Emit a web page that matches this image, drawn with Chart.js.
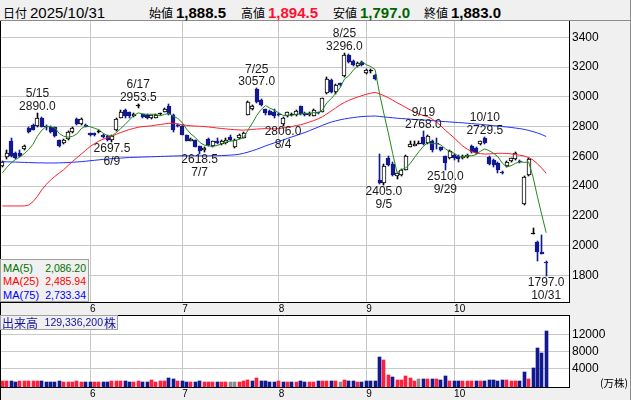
<!DOCTYPE html>
<html><head><meta charset="utf-8">
<script src="https://cdn.jsdelivr.net/npm/chart.js@4.4.0/dist/chart.umd.min.js"></script>
<style>
html,body{margin:0;padding:0;width:631px;height:400px;overflow:hidden;background:#f0f0f0;font-family:"Liberation Sans",Arial,sans-serif;}
#hdr{position:absolute;left:0;top:0;width:630px;height:20px;background:#f0f0f0;border-bottom:1px solid #8c8c8c;border-right:1px solid #8c8c8c;}
.t{position:absolute;top:0;line-height:26px;white-space:nowrap;color:#000;}
.j{font-family:"Noto Sans CJK JP";font-size:12px;}
.n{font-size:15px;}
.b{font-weight:bold;}
canvas{position:absolute;left:0;}
#pc{top:21px;}
#vc{top:315px;}
.box{position:absolute;background:#f0f0f0;border:1px solid #a0a0a0;box-sizing:border-box;}
.row{position:absolute;left:2px;right:2px;height:14px;line-height:14px;white-space:nowrap;}
.row .l{position:absolute;left:0;font-size:11px;}
.row .v{position:absolute;right:0;font-size:10.5px;}
</style>
</head><body>
<div id="hdr">
  <span class="t j" style="left:3px">日付</span>
  <span class="t n" style="left:30px">2025/10/31</span>
  <span class="t j" style="left:149px">始値</span>
  <span class="t n b" style="left:176px">1,888.5</span>
  <span class="t j" style="left:241px">高値</span>
  <span class="t n b" style="left:268px;color:#ff1030">1,894.5</span>
  <span class="t j" style="left:333px">安値</span>
  <span class="t n b" style="left:360px;color:#006400">1,797.0</span>
  <span class="t j" style="left:424px">終値</span>
  <span class="t n b" style="left:451px">1,883.0</span>
</div>
<canvas id="pc" width="631" height="294"></canvas>
<canvas id="vc" width="631" height="85"></canvas>
<div class="box" style="left:0;top:259px;width:89px;height:43px;">
  <div class="row" style="top:1px;color:#007000"><span class="l">MA(5)</span><span class="v">2,086.20</span></div>
  <div class="row" style="top:14px;color:#ff0000"><span class="l">MA(25)</span><span class="v">2,485.94</span></div>
  <div class="row" style="top:28px;color:#0000ff"><span class="l">MA(75)</span><span class="v">2,733.34</span></div>
</div>
<div class="box" style="left:0;top:315px;width:118px;height:15px;color:#1414a0;">
  <span style="position:absolute;left:1px;top:0;line-height:13px;font-family:'Noto Sans CJK JP';font-size:12px;">出来高</span>
  <span style="position:absolute;right:14px;top:0;line-height:13px;font-size:10.5px;">129,336,200</span>
  <span style="position:absolute;right:1px;top:0;line-height:13px;font-family:'Noto Sans CJK JP';font-size:12px;">株</span>
</div>
<div style="position:absolute;left:600px;top:376px;font-family:'Noto Sans CJK JP';font-size:10.5px;line-height:14px;color:#000;white-space:nowrap;">(万株)</div>
<script>
// ---------------- data ----------------
const dates = ['5/1','5/2','5/7','5/8','5/9','5/12','5/13','5/14','5/15','5/16','5/19','5/20','5/21','5/22','5/23','5/26','5/27','5/28','5/29','5/30',
'6/2','6/3','6/4','6/5','6/6','6/9','6/10','6/11','6/12','6/13','6/16','6/17','6/18','6/19','6/20','6/23','6/24','6/25','6/26','6/27','6/30',
'7/1','7/2','7/3','7/4','7/7','7/8','7/9','7/10','7/11','7/14','7/15','7/16','7/17','7/18','7/22','7/23','7/24','7/25','7/28','7/29','7/30','7/31',
'8/1','8/4','8/5','8/6','8/7','8/8','8/12','8/13','8/14','8/15','8/18','8/19','8/20','8/21','8/22','8/25','8/26','8/27','8/28','8/29',
'9/1','9/2','9/3','9/4','9/5','9/8','9/9','9/10','9/11','9/12','9/16','9/17','9/18','9/19','9/22','9/24','9/25','9/26','9/29','9/30',
'10/1','10/2','10/3','10/6','10/7','10/8','10/9','10/10','10/14','10/15','10/16','10/17','10/20','10/21','10/22','10/23','10/24','10/27','10/28','10/29','10/30','10/31'];
const opens = [2535,2592,2700,2620,2625,2648,2792,2812,2805,2855,2800,2800,2795,2710,2690,2716,2762,2850,2815,2810,
2755,2755,2765,2745,2735,2712,2775,2860,2912,2895,2870,2935,2882,2880,2858,2860,2884,2900,2940,2880,2810,
2805,2742,2705,2708,2668,2640,2715,2672,2705,2680,2690,2730,2665,2720,2725,2880,2918,3050,2978,2915,2905,2900,
2880,2818,2870,2880,2875,2935,2890,2875,2872,2895,2900,3025,3110,3030,3090,3140,3280,3240,3207,3235,
3158,3172,3145,2440,2420,2587,2550,2465,2475,2508,2665,2672,2685,2730,2692,2700,2690,2660,2600,2587,
2609,2605,2590,2595,2669,2655,2680,2722,2597,2575,2557,2495,2535,2570,2580,2570,2277,2474,2080,2027,1960,1888.5];
const highs = [2570,2645,2725,2630,2640,2675,2800,2820,2890,2865,2810,2805,2800,2712,2715,2770,2795,2860,2855,2815,
2760,2760,2775,2750,2740,2742,2855,2910,2920,2900,2890,2953.5,2885,2885,2880,2882,2892,2925,2950,2885,2820,
2808,2745,2720,2712,2672,2660,2720,2705,2720,2712,2720,2740,2715,2748,2765,2970,2942,3057,2985,2920,2910,2915,
2890,2862,2900,2890,2910,2940,2895,2895,2915,2900,2995,3130,3120,3085,3095,3296,3290,3245,3235,3240,
3185,3185,3150,2615,2548,2600,2560,2490,2515,2612,2705,2700,2705,2768,2745,2710,2720,2665,2605,2640,
2615,2612,2610,2615,2675,2660,2705,2729.5,2600,2580,2565,2500,2570,2590,2632,2575,2470,2590,2115,2030,2070,1894.5];
const lows = [2530,2585,2595,2580,2595,2640,2760,2775,2800,2795,2780,2755,2730,2665,2680,2710,2755,2810,2810,2795,
2735,2738,2755,2725,2705,2697.5,2770,2855,2860,2860,2865,2925,2860,2850,2852,2855,2878,2895,2880,2765,2800,
2740,2700,2700,2660,2618.5,2632,2670,2665,2680,2675,2685,2705,2658,2715,2720,2875,2912,2960,2940,2880,2875,2860,
2870,2806,2865,2872,2870,2880,2870,2870,2868,2882,2898,3020,3025,3020,3070,3135,3230,3205,3200,3210,
3150,3160,3115,2415,2405,2535,2468,2450,2470,2505,2660,2668,2680,2678,2685,2630,2650,2635,2510,2580,
2575,2560,2585,2590,2625,2615,2675,2685,2540,2530,2490,2478,2530,2565,2575,2555,2275,2470,2080,1898,1940,1797];
const closes = [2565,2625,2600,2590,2600,2670,2766,2780,2860,2800,2795,2762,2735,2672,2710,2765,2788,2815,2850,2800,
2740,2742,2765,2730,2712,2738,2850,2900,2870,2868,2885,2935,2865,2855,2876,2878,2884,2918,2885,2780,2806,
2745,2706,2715,2665,2638,2655,2675,2700,2690,2705,2710,2710,2710,2742,2755,2965,2938,2968,2945,2890,2880,2870,
2878,2855,2895,2880,2905,2885,2878,2890,2912,2888,2990,3122,3030,3080,3080,3281,3236,3214,3228,3215,
3180,3172,3122,2420,2535,2542,2475,2485,2508,2605,2680,2685,2685,2683,2735,2640,2685,2642,2557,2633,
2587,2585,2605,2610,2631,2622,2700,2688,2548,2540,2508,2485,2564,2587,2620,2560,2463,2580,2080,1960,1945,1883];
// volume (万株)
const volumes = [1000,1100,1000,850,900,950,1050,1000,1000,900,850,850,850,900,850,850,850,900,850,850,
850,850,850,850,850,900,950,950,900,850,850,950,850,850,1300,850,900,1000,1600,1500,1000,
900,850,850,850,900,850,850,850,850,850,850,850,850,850,900,1250,1000,1700,1000,900,850,850,
900,850,850,850,850,900,850,850,850,900,900,1100,1000,900,850,1250,1000,900,850,850,
950,900,1000,6800,6000,2400,2000,1250,1250,2250,1800,1000,1450,1450,1450,1450,1450,1250,2250,1000,
1000,1000,1000,1000,1000,900,1000,1000,1150,1300,1000,1350,1250,1000,1100,1000,3200,1500,4200,8900,7750,12934];
const ma5 = [2488,2525,2555,2578,2596,2617,2645,2681,2735,2775,2800,2799,2790,2753,2735,2729,2734,2750,2786,2804,
2799,2789,2779,2755,2738,2737,2759,2786,2814,2845,2875,2892,2885,2882,2883,2882,2872,2882,2888,2869,2855,
2827,2784,2750,2727,2694,2676,2670,2667,2672,2685,2696,2703,2705,2715,2725,2776,2822,2874,2914,2941,2924,2911,
2893,2875,2876,2876,2883,2884,2889,2888,2894,2891,2912,2960,2988,3022,3060,3119,3141,3178,3208,3236,
3216,3203,3183,3022,2886,2758,2619,2491,2509,2523,2551,2593,2632,2667,2693,2685,2686,2676,2651,2631,
2621,2601,2593,2604,2604,2611,2634,2650,2638,2620,2597,2554,2529,2537,2553,2563,2559,2562,2461,2329,2206,2086];
const ma25 = [2266,2266,2266,2266,2266,2266,2272,2295,2330,2375,2410,2440,2465,2488,2510,2538,2565,2590,2615,2640,
2665,2685,2702,2715,2725,2735,2748,2760,2770,2780,2788,2795,2800,2802,2805,2810,2814,2818,2822,2822,2818,
2812,2808,2805,2803,2802,2800,2797,2794,2790,2787,2784,2781,2779,2777,2776,2778,2780,2783,2785,2786,2785,2784,
2786,2790,2795,2800,2806,2812,2820,2830,2840,2852,2866,2885,2905,2925,2945,2962,2976,2988,2998,3008,
3017,3024,3030,3020,3008,2994,2978,2960,2945,2928,2912,2898,2885,2875,2866,2850,2830,2805,2775,2750,
2725,2695,2668,2648,2632,2622,2618,2615,2616,2618,2620,2620,2619,2616,2612,2607,2602,2592,2575,2550,2520,2486];
const ma75 = [2564,2563,2562,2561,2560,2559,2558,2557,2556,2556,2555,2555,2555,2556,2557,2558,2560,2562,2564,2567,
2570,2573,2576,2579,2582,2584,2586,2588,2590,2592,2593,2594,2595,2596,2597,2598,2599,2600,2601,2602,2603,
2603,2603,2603,2603,2603,2603,2603,2604,2604,2605,2606,2608,2610,2614,2620,2628,2637,2647,2658,2670,2680,2690,
2700,2710,2720,2730,2740,2750,2760,2772,2784,2796,2808,2820,2830,2838,2845,2851,2856,2860,2864,2867,
2869,2870,2871,2868,2865,2862,2859,2856,2854,2852,2850,2848,2846,2844,2842,2840,2838,2835,2833,2831,
2829,2827,2825,2822,2820,2817,2815,2812,2809,2806,2803,2800,2797,2794,2790,2786,2781,2774,2766,2757,2746,2733];
const monthTicks = [20,41,63,83,103];
const monthLabels = ['6','7','8','9','10'];
const priceTicks = [1800,2000,2200,2400,2600,2800,3000,3200,3400];
const volTicks = [4000,8000,12000];
const highMarks = [8,31,58,78,96,110];
const lowMarks = [25,45,64,87,101,124];

// ---------------- styles ----------------
const NAVY = '#12198f', UPC = '#000000';
const GRID = '#c8c8c8';
const VRED = '#ff2040', VBLUE = '#12198f', VGRAY = '#8c8c8c';
const XMIN = -0.296, XMAX = 129.2;

const crisp = {
  id: 'crisp',
  afterDatasetsUpdate(chart) {
    chart.data.datasets.forEach((ds, di) => {
      const meta = chart.getDatasetMeta(di);
      if (meta.type !== 'bar') return;
      meta.data.forEach(el => {
        const w = Math.round(el.width);
        el.x = (w % 2 === 1) ? Math.floor(el.x) + 0.5 : Math.round(el.x);
        let y = Math.round(el.y), b = Math.round(el.base);
        if (Math.abs(y - b) < 1) b = y + 1;
        el.y = y; el.base = b;
      });
    });
  }
};
const frame = {
  id: 'frame',
  beforeDraw(chart) {
    const c = chart.ctx, a = chart.chartArea;
    c.save();
    c.fillStyle = '#f0f0f0'; c.fillRect(0, 0, chart.width, chart.height);
    c.fillStyle = '#ffffff'; c.fillRect(a.left, a.top, a.right - a.left, a.bottom - a.top);
    c.restore();
  },
  afterDraw(chart, args, opts) {
    const c = chart.ctx, a = chart.chartArea;
    c.save();
    c.strokeStyle = '#000'; c.lineWidth = 1;
    c.beginPath(); c.moveTo(0.5, 0); c.lineTo(0.5, chart.height); c.stroke();
    if (opts.top) { c.beginPath(); c.moveTo(0, 0.5); c.lineTo(a.right, 0.5); c.stroke(); }
    c.strokeStyle = '#8c8c8c';
    c.beginPath(); c.moveTo(630.5, 0); c.lineTo(630.5, chart.height); c.stroke();
    c.restore();
  }
};
const marks = {
  id: 'marks',
  afterDatasetsDraw(chart) {
    const c = chart.ctx, xs = chart.scales.x, ys = chart.scales.y;
    c.save();
    c.font = '12px "Liberation Sans", Arial, sans-serif';
    c.fillStyle = '#1a1a1a'; c.textAlign = 'center'; c.textBaseline = 'middle';
    highMarks.forEach(i => {
      const x = xs.getPixelForValue(i), y = ys.getPixelForValue(highs[i]);
      c.fillText(highs[i].toFixed(1), x, y - 6.5);
      c.fillText(dates[i], x, y - 19);
    });
    lowMarks.forEach(i => {
      const x = xs.getPixelForValue(i), y = ys.getPixelForValue(lows[i]);
      c.fillText(lows[i].toFixed(1), x, y + 6.5);
      c.fillText(dates[i], x, y + 19.5);
    });
    c.restore();
  }
};

const up = closes.map((c, i) => c > opens[i] ? 1 : (c < opens[i] ? -1 : 0));
const bodyBg = up.map(u => u > 0 ? '#ffffff' : (u < 0 ? NAVY : '#000000'));
const bodyBd = up.map(u => u < 0 ? NAVY : UPC);
const wickC = up.map(u => u < 0 ? NAVY : UPC);
const volC = closes.map((c, i) => i === 0 ? VRED : (c > closes[i-1] ? VRED : (c < closes[i-1] ? VBLUE : VGRAY)));
const pts = arr => arr.map((v, i) => ({x: i, y: v}));
const noPad = s => { s.paddingTop = 0; s.paddingBottom = 0; s.paddingLeft = 0; s.paddingRight = 0; };

const xAxis = () => ({
  type: 'linear', min: XMIN, max: XMAX, position: 'bottom', offset: false,
  afterBuildTicks: s => { s.ticks = monthTicks.map(v => ({value: v})); },
  afterFit: s => { s.height = 13; noPad(s); },
  grid: {color: GRID, drawTicks: false, lineWidth: 1, offset: false},
  border: {display: true, color: '#000', width: 1},
  ticks: {autoSkip: false, maxRotation: 0, align: 'start', padding: 1, color: '#000',
          font: {family: '"Liberation Sans", Arial, sans-serif', size: 10, lineHeight: 1.2},
          callback: v => monthLabels[monthTicks.indexOf(v)]}
});
const yAxis = (min, max, ticks) => ({
  type: 'linear', position: 'right', min: min, max: max,
  afterBuildTicks: s => { s.ticks = ticks.map(v => ({value: v})); },
  afterFit: s => { s.width = 62; noPad(s); },
  grid: {color: GRID, drawTicks: false},
  border: {display: true, color: '#000'},
  ticks: {padding: 3, color: '#000', font: {family: '"Liberation Sans", Arial, sans-serif', size: 12},
          callback: v => String(v)}
});

new Chart(document.getElementById('pc'), {
  type: 'bar',
  data: {
    datasets: [
      {type: 'line', data: pts(ma5), borderColor: '#1e8a1e', borderWidth: 1, pointRadius: 0, tension: 0},
      {type: 'line', data: pts(ma25), borderColor: '#ff2030', borderWidth: 1, pointRadius: 0, tension: 0},
      {type: 'line', data: pts(ma75), borderColor: '#2030ff', borderWidth: 1, pointRadius: 0, tension: 0},
      {type: 'bar', data: opens.map((o, i) => ({x: i, y: [Math.min(o, closes[i]), Math.max(o, closes[i])]})),
       backgroundColor: bodyBg, borderColor: bodyBd, borderWidth: 1, borderSkipped: false,
       barThickness: 4, grouped: false, minBarLength: 1},
      {type: 'bar', data: lows.map((l, i) => ({x: i, y: [l, highs[i]]})),
       backgroundColor: wickC, borderWidth: 0, barThickness: 1, grouped: false}
    ]
  },
  options: {
    responsive: false, animation: false, events: [],
    layout: {padding: {left: 1, right: 0, top: 0, bottom: 0}},
    plugins: {legend: {display: false}, tooltip: {enabled: false}, frame: {top: false}},
    scales: { x: xAxis(), y: yAxis(1620.5, 3509.6, priceTicks) }
  },
  plugins: [crisp, frame, marks]
});

new Chart(document.getElementById('vc'), {
  type: 'bar',
  data: {
    datasets: [
      {data: volumes.map((v, i) => ({x: i, y: v})), backgroundColor: volC, borderWidth: 0,
       barThickness: 3, grouped: false, base: -430}
    ]
  },
  options: {
    responsive: false, animation: false, events: [],
    layout: {padding: {left: 1, right: 0, top: 0, bottom: 0}},
    plugins: {legend: {display: false}, tooltip: {enabled: false}, frame: {top: true}},
    scales: { x: xAxis(), y: yAxis(-430, 16714, volTicks) }
  },
  plugins: [crisp, frame]
});
</script>
</body></html>
